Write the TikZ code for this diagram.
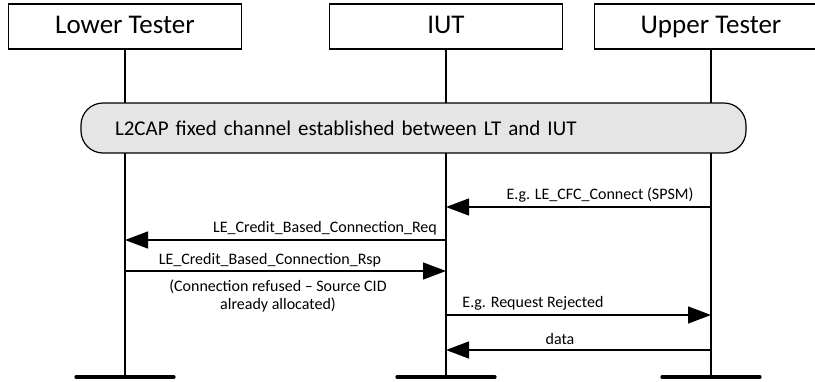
\documentclass[tikz,border=0pt]{standalone}
\usepackage{fontspec}
\setmainfont{Carlito}
\usetikzlibrary{arrows.meta, positioning}

\tikzset{
  actor/.style={draw, line width=1.2pt, minimum width=233pt, minimum height=45pt, inner sep=0pt,
                text height=18pt, text depth=5pt, font=\fontsize{27}{30}\selectfont},
  life/.style={line width=1.2pt},
  foot/.style={line width=3.2pt, line cap=round},
  msg/.style={line width=1.3pt, -{Triangle[length=23pt, width=17pt]}},
  lbl/.style={inner sep=0pt, font=\fontsize{16}{18}\selectfont},
}

\begin{document}
\begin{tikzpicture}[x=1pt, y=-1pt]
  \useasboundingbox (0,0) rectangle (815,381);

  % Actors
  \node[actor] (lt) at (125,26.5) {Lower Tester};
  \node[actor] (iut) at (446,26.5) {IUT};
  \node[actor] (ut) at (711,26.5) {Upper Tester};

  % Lifelines
  \foreach \a/\x in {lt/125, iut/446, ut/711} {
    \coordinate (\a-end) at (\x,377);
    \draw[life] (\a.south) -- (\a-end);
    \draw[foot] ([xshift=-49pt]\a-end) -- ([xshift=49pt]\a-end);
  }

  % Established channel
  \node[draw, line width=1.2pt, fill=gray!20, rounded corners=22pt, minimum height=50pt,
        text width=597pt, inner xsep=34pt, align=left, font=\fontsize{21}{25}\selectfont]
        (chan) at (413.5,128) {L2CAP fixed channel established between LT and IUT};

  % Messages
  \coordinate (ut-1) at (711,207);
  \coordinate (iut-1) at (446,207);
  \draw[msg] (ut-1) -- (iut-1);
  \node[lbl] (m1) at (600,195) {E.g. LE\_CFC\_Connect (SPSM)};

  \coordinate (iut-2) at (446,240);
  \coordinate (lt-2) at (125,240);
  \draw[msg] (iut-2) -- (lt-2);
  \node[lbl] (m2) at (325,228) {LE\_Credit\_Based\_Connection\_Req};

  \coordinate (lt-3) at (125,271);
  \coordinate (iut-3) at (446,271);
  \draw[msg] (lt-3) -- (iut-3);
  \node[lbl] (m3) at (270,260) {LE\_Credit\_Based\_Connection\_Rsp};
  \node[lbl, align=center] (m3b) at (278,296) {(Connection refused – Source CID\\already allocated)};

  \coordinate (iut-4) at (446,315);
  \coordinate (ut-4) at (711,315);
  \draw[msg] (iut-4) -- (ut-4);
  \node[lbl] (m4) at (533,303) {E.g. Request Rejected};

  \coordinate (ut-5) at (711,350);
  \coordinate (iut-5) at (446,350);
  \draw[msg] (ut-5) -- (iut-5);
  \node[lbl] (m5) at (560,339) {data};

\end{tikzpicture}
\end{document}
